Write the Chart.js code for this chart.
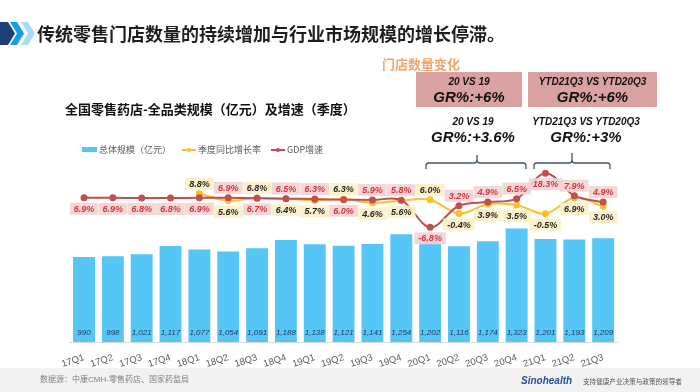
<!DOCTYPE html>
<html>
<head>
<meta charset="utf-8">
<script src="https://cdn.jsdelivr.net/npm/chart.js@4.4.0/dist/chart.umd.min.js"></script>
<style>
  body { margin: 0; width: 700px; height: 392px; overflow: hidden; background: #fff; position: relative;
         font-family: "Liberation Sans", "Noto Sans CJK SC", sans-serif; }
  #chart { position: absolute; left: 0; top: 0; }
  .abs { position: absolute; white-space: nowrap; }
  .title { left: 37px; top: 21px; font: bold 18px "Noto Sans CJK SC"; color: #1e1e1e; line-height: 24px; }
  .sub { left: 382px; top: 55px; font: bold 13px "Noto Sans CJK SC"; color: #f4a56b; line-height: 18px; }
  .box { top: 72px; height: 35px; background: #d9a1a0; text-align: center; color: #111; }
  .box .a, .note .a { font: italic bold 10px "Liberation Sans"; line-height: 12px; }
  .box .b, .note .b { font: italic bold 15px "Liberation Sans"; line-height: 18px; }
  .box .a { margin-top: 4px; }
  .note { top: 116px; text-align: center; color: #111; }
  .ctitle { left: 65px; top: 100px; font: bold 13px "Noto Sans CJK SC"; color: #111; line-height: 18px; }
  .lg { top: 144px; font: 9px "Noto Sans CJK SC"; color: #595959; line-height: 12px; }
  .foot { left: 0; top: 368px; width: 700px; height: 24px; background: #f2f2f2; }
  .src { left: 40px; top: 374px; font: 8px "Liberation Sans", "Noto Sans CJK SC"; color: #7f7f7f; line-height: 12px; }
  .brand { left: 521px; top: 374px; font: italic bold 10px "Liberation Sans"; color: #1f4e9a; line-height: 13px; }
  .slogan { left: 583px; top: 376px; font: 6.6px "Noto Sans CJK SC"; color: #555; line-height: 10px; }
</style>
</head>
<body>
<canvas id="chart" width="700" height="392"></canvas>

<svg class="abs" style="left:0;top:0" width="700" height="392">
  <polygon points="0,22 8,22 15,33.5 8,45 0,45" fill="#1c3f78"/>
  <polygon points="10,22 17,22 24,33.5 17,45 10,45 17,33.5" fill="#14a0e6"/>
  <polygon points="21,22 28,22 35,33.5 28,45 21,45 28,33.5" fill="#a9dcf5"/>
  <g fill="none" stroke="#44546a" stroke-width="1.3">
    <path d="M426 169 L426 166 Q426 163 429 163 L474 163 Q477 163 477 160 L477 155 M477 160 Q477 163 480 163 L523 163 Q526 163 526 166 L526 169"/>
    <path d="M534 169 L534 166 Q534 163 537 163 L569 163 Q572 163 572 160 L572 153 M572 160 Q572 163 575 163 L607 163 Q610 163 610 166 L610 169"/>
  </g>
  <g transform="translate(568,373)">
    <path d="M0 2 L4 7 L4 12 L6 12 L6 7 L10 0 L6 4 Z" fill="#1f4e9a"/>
    <path d="M6 4 L10 0 L9 4 Z" fill="#f2b705"/>
  </g>
</svg>

<div class="abs title">传统零售门店数量的持续增加与行业市场规模的增长停滞。</div>
<div class="abs sub">门店数量变化</div>
<div class="abs box" style="left:416px;width:106px"><div class="a">20 VS 19</div><div class="b">GR%:+6%</div></div>
<div class="abs box" style="left:528px;width:129px"><div class="a">YTD21Q3 VS YTD20Q3</div><div class="b">GR%:+6%</div></div>
<div class="abs note" style="left:423px;width:100px"><div class="a">20 VS 19</div><div class="b">GR%:+3.6%</div></div>
<div class="abs note" style="left:526px;width:120px"><div class="a">YTD21Q3 VS YTD20Q3</div><div class="b">GR%:+3%</div></div>
<div class="abs ctitle">全国零售药店-全品类规模（亿元）及增速（季度）</div>

<div class="abs" style="left:82px;top:147px;width:15px;height:5px;background:#56c6f6"></div>
<div class="abs lg" style="left:99px">总体规模（亿元）</div>
<div class="abs" style="left:182px;top:149px;width:14px;height:2px;background:#f9c02a"></div>
<div class="abs" style="left:187px;top:148px;width:4px;height:4px;border-radius:2px;background:#f9c02a"></div>
<div class="abs lg" style="left:198px">季度同比增长率</div>
<div class="abs" style="left:271px;top:149px;width:14px;height:2px;background:#c0504d"></div>
<div class="abs" style="left:276px;top:148px;width:4px;height:4px;border-radius:2px;background:#c0504d"></div>
<div class="abs lg" style="left:287px">GDP增速</div>

<div class="abs foot"></div>
<div class="abs src">数据源：中康CMH-零售药店、国家药监局</div>
<div class="abs brand">Sinohealth</div>
<div class="abs slogan">支持健康产业决策与政策的领导者</div>

<script>
// 季度
const quarters = ['17Q1', '17Q2', '17Q3', '17Q4', '18Q1', '18Q2', '18Q3', '18Q4', '19Q1', '19Q2',
  '19Q3', '19Q4', '20Q1', '20Q2', '20Q3', '20Q4', '21Q1', '21Q2', '21Q3'];

// 总体规模（亿元）
const scaleSize = [990, 998, 1021, 1117, 1077, 1054, 1091, 1188, 1138, 1121,
  1141, 1254, 1202, 1116, 1174, 1323, 1201, 1193, 1209];

// 季度同比增长率 (%)
const yoyGrowth = [null, null, null, null, 8.8, 5.6, 6.8, 6.4, 5.7, 6.3,
  4.6, 5.6, 6.0, -0.4, 3.9, 3.5, -0.5, 6.9, 3.0];

// GDP增速 (%)
const gdpGrowth = [6.9, 6.9, 6.8, 6.8, 6.9, 6.9, 6.7, 6.5, 6.3, 6.0,
  5.9, 5.8, -6.8, 3.2, 4.9, 6.5, 18.3, 7.9, 4.9];

// 标签放在点的上方(1)或下方(-1)
const yoySide = [0, 0, 0, 0, 1, -1, 1, -1, -1, 1, -1, -1, 1, -1, -1, -1, -1, -1, -1];
const gdpSide = [-1, -1, -1, -1, -1, 1, -1, 1, 1, -1, 1, 1, -1, 1, 1, 1, -1, 1, 1];

const BLUE = '#56c6f6';
const YELLOW = '#f9c02a';
const RED = '#c0504d';

function drawTags(chart, index, values, sides, bg, color) {
  const ctx = chart.ctx;
  const meta = chart.getDatasetMeta(index);
  ctx.font = 'italic bold 9px "Liberation Sans"';
  ctx.textAlign = 'center';
  ctx.textBaseline = 'middle';
  meta.data.forEach((pt, i) => {
    if (values[i] === null) return;
    const text = values[i].toFixed(1) + '%';
    const w = ctx.measureText(text).width + 8;
    const h = 12;
    const y = sides[i] > 0 ? pt.y - 10 : pt.y + 11;
    ctx.fillStyle = bg;
    ctx.fillRect(pt.x - w / 2, y - h / 2, w, h);
    ctx.fillStyle = color;
    ctx.fillText(text, pt.x, y + 0.5);
  });
}

const labelPlugin = {
  id: 'valueLabels',
  afterDatasetsDraw(chart) {
    const ctx = chart.ctx;
    ctx.save();
    const bars = chart.getDatasetMeta(0);
    ctx.font = 'italic 8px "Liberation Sans"';
    ctx.fillStyle = '#1f3864';
    ctx.textAlign = 'center';
    ctx.textBaseline = 'middle';
    bars.data.forEach((bar, i) => {
      ctx.fillText(scaleSize[i].toLocaleString('en-US'), bar.x, chart.chartArea.bottom - 9);
    });
    drawTags(chart, 1, yoyGrowth, yoySide, 'rgba(253,240,200,0.92)', '#262626');
    drawTags(chart, 2, gdpGrowth, gdpSide, 'rgba(243,212,212,0.92)', '#d8323c');
    ctx.restore();
  }
};

new Chart(document.getElementById('chart'), {
  data: {
    labels: quarters,
    datasets: [
      {
        type: 'bar',
        label: '总体规模（亿元）',
        data: scaleSize,
        backgroundColor: BLUE,
        yAxisID: 'yBar',
        categoryPercentage: 0.76,
        barPercentage: 1,
        order: 3
      },
      {
        type: 'line',
        label: '季度同比增长率',
        data: yoyGrowth,
        borderColor: YELLOW,
        backgroundColor: YELLOW,
        borderWidth: 2,
        pointRadius: 2.5,
        tension: 0.35,
        yAxisID: 'yLine',
        order: 2
      },
      {
        type: 'line',
        label: 'GDP增速',
        data: gdpGrowth,
        borderColor: RED,
        backgroundColor: RED,
        borderWidth: 2,
        pointRadius: 2.5,
        tension: 0.35,
        yAxisID: 'yLine',
        order: 1
      }
    ]
  },
  options: {
    responsive: false,
    animation: false,
    layout: { padding: { left: 69.6, right: 82.4, top: 148, bottom: 0 } },
    plugins: {
      legend: { display: false },
      tooltip: { enabled: false }
    },
    scales: {
      x: {
        grid: { display: false },
        border: { color: '#d9d9d9' },
        ticks: {
          color: '#595959',
          font: { family: 'Liberation Sans', size: 9.5 },
          minRotation: 18,
          maxRotation: 18,
          padding: 2
        },
        afterFit(scale) { scale.height = 50; }
      },
      yBar: { display: false, min: 0, max: 2260 },
      yLine: { display: false, min: -60, max: 30 }
    }
  },
  plugins: [labelPlugin]
});
</script>
</body>
</html>
